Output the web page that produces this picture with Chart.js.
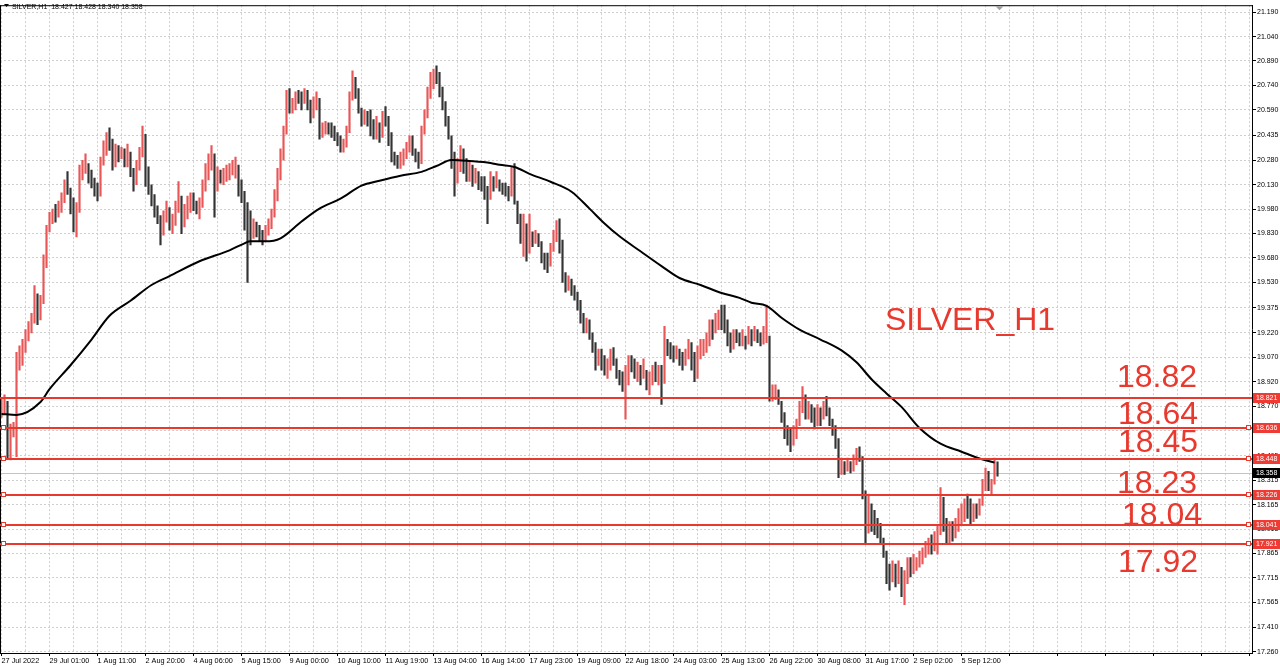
<!DOCTYPE html>
<html>
<head>
<meta charset="utf-8">
<script src="https://cdn.jsdelivr.net/npm/chart.js@4.4.1/dist/chart.umd.min.js"></script>
<style>
  html, body { margin: 0; padding: 0; background: #fff; }
</style>
</head>
<body>
<canvas id="silverChart" width="1280" height="667"></canvas>
<script>
// SILVER H1, 27 Jul - 6 Sep 2022, one bar every ~2 hours

const highs = [
  18.82,18.84,18.80,18.66,18.67,19.10,19.14,19.18,19.24,19.29,19.34,19.51,19.46,19.45,19.70,19.88,
  19.96,19.98,20.01,20.03,20.08,20.16,20.21,20.11,20.05,20.02,20.25,20.28,20.32,20.26,20.22,20.17,
  20.14,20.30,20.40,20.45,20.48,20.41,20.38,20.37,20.36,20.35,20.38,20.33,20.23,20.28,20.36,20.49,
  20.44,20.24,20.13,20.07,20.00,19.94,19.97,20.03,19.99,19.95,20.03,20.15,20.06,20.01,20.06,20.08,
  20.08,20.03,20.05,20.16,20.26,20.32,20.37,20.32,20.24,20.22,20.23,20.25,20.26,20.28,20.30,20.25,
  20.16,20.09,20.02,19.97,19.92,19.90,19.88,19.85,19.88,19.92,19.98,20.10,20.23,20.35,20.49,20.71,
  20.72,20.66,20.70,20.71,20.70,20.72,20.71,20.65,20.67,20.70,20.66,20.51,20.52,20.51,20.51,20.49,
  20.45,20.43,20.41,20.49,20.70,20.83,20.79,20.72,20.60,20.59,20.58,20.59,20.53,20.55,20.51,20.58,
  20.61,20.55,20.45,20.33,20.31,20.33,20.35,20.39,20.43,20.43,20.35,20.33,20.49,20.59,20.73,20.82,
  20.84,20.86,20.82,20.73,20.64,20.55,20.43,20.33,20.29,20.37,20.35,20.29,20.27,20.25,20.23,20.21,
  20.18,20.18,20.12,20.21,20.18,20.21,20.16,20.14,20.14,20.12,20.24,20.26,20.03,19.95,19.95,19.89,
  19.95,19.84,19.85,19.83,19.78,19.71,19.71,19.77,19.85,19.91,19.92,19.79,19.59,19.57,19.55,19.51,
  19.47,19.42,19.34,19.31,19.30,19.22,19.16,19.12,19.12,19.08,19.06,19.12,19.13,19.06,18.99,18.98,
  19.02,19.08,19.08,19.06,19.04,19.02,19.06,18.99,18.98,19.02,19.04,19.02,19.02,19.26,19.18,19.16,
  19.14,19.14,19.12,19.10,19.12,19.18,19.16,19.10,19.14,19.18,19.18,19.22,19.30,19.30,19.34,19.36,
  19.39,19.39,19.30,19.22,19.24,19.24,19.22,19.24,19.20,19.26,19.24,19.26,19.24,19.22,19.26,19.39,
  19.20,18.90,18.90,18.87,18.80,18.73,18.65,18.63,18.65,18.69,18.80,18.89,18.84,18.80,18.78,18.76,
  18.78,18.76,18.80,18.83,18.76,18.69,18.65,18.57,18.45,18.43,18.45,18.43,18.47,18.51,18.52,18.46,
  18.25,18.23,18.17,18.13,18.08,18.05,17.96,17.88,17.80,17.82,17.80,17.82,17.78,17.76,17.84,17.84,
  17.86,17.84,17.88,17.90,17.94,17.96,17.98,18.00,18.04,18.27,18.21,18.08,18.06,18.06,18.08,18.14,
  18.17,18.20,18.23,18.20,18.17,18.17,18.20,18.32,18.39,18.37,18.32,18.45,18.428
];

const lows = [
  18.70,18.72,18.45,18.44,18.58,18.46,18.99,19.02,19.10,19.17,19.22,19.28,19.27,19.30,19.40,19.62,
  19.84,19.89,19.90,19.93,19.96,20.02,20.07,19.95,19.84,19.81,19.96,20.16,20.20,20.14,20.11,20.06,
  20.03,20.06,20.25,20.31,20.34,20.22,20.24,20.27,20.29,20.24,20.24,20.18,20.09,20.13,20.22,20.30,
  20.12,20.07,20.00,19.93,19.89,19.76,19.82,19.90,19.85,19.83,19.88,19.96,19.83,19.87,19.92,19.96,
  19.97,19.95,19.92,19.99,20.09,20.16,20.22,19.93,20.09,20.14,20.13,20.15,20.16,20.19,20.17,20.06,
  20.02,19.85,19.53,19.76,19.80,19.81,19.78,19.76,19.78,19.82,19.86,19.93,20.03,20.16,20.28,20.44,
  20.57,20.57,20.59,20.63,20.59,20.63,20.59,20.51,20.54,20.59,20.41,20.42,20.44,20.44,20.42,20.40,
  20.37,20.33,20.33,20.36,20.45,20.65,20.66,20.57,20.49,20.50,20.49,20.43,20.41,20.41,20.39,20.42,
  20.49,20.37,20.27,20.25,20.23,20.23,20.25,20.29,20.33,20.31,20.27,20.23,20.26,20.44,20.54,20.66,
  20.72,20.75,20.67,20.59,20.49,20.41,20.23,20.06,20.14,20.21,20.20,20.15,20.15,20.12,20.14,20.10,
  20.09,20.04,19.89,20.04,20.09,20.11,20.09,20.07,20.06,20.03,20.06,20.01,19.89,19.77,19.69,19.66,
  19.71,19.75,19.77,19.75,19.65,19.61,19.59,19.63,19.72,19.78,19.71,19.53,19.47,19.48,19.45,19.42,
  19.36,19.28,19.22,19.22,19.18,19.10,18.99,19.02,18.99,18.96,18.94,18.99,19.02,18.94,18.90,18.86,
  18.69,18.90,18.98,18.94,18.92,18.90,18.94,18.87,18.84,18.90,18.92,18.90,18.78,18.91,19.08,19.06,
  19.04,19.06,19.02,18.99,19.02,19.06,18.99,18.92,18.94,19.06,19.08,19.10,19.14,19.18,19.22,19.24,
  19.24,19.22,19.14,19.10,19.12,19.16,19.14,19.14,19.12,19.15,19.14,19.17,19.16,19.14,19.15,19.16,
  18.80,18.80,18.81,18.78,18.67,18.57,18.53,18.49,18.53,18.57,18.65,18.73,18.69,18.69,18.67,18.63,
  18.65,18.65,18.69,18.71,18.65,18.59,18.51,18.33,18.35,18.35,18.37,18.36,18.37,18.41,18.43,18.20,
  17.92,17.99,18.00,17.98,17.96,17.92,17.84,17.68,17.64,17.69,17.66,17.68,17.60,17.55,17.68,17.72,
  17.74,17.76,17.78,17.80,17.84,17.86,17.86,17.88,17.86,17.98,18.00,17.92,17.92,17.94,17.96,18.00,
  18.04,18.06,18.08,18.04,18.06,18.08,18.10,18.16,18.25,18.25,18.23,18.29,18.340
];

const closes = [
  18.76,18.80,18.58,18.62,18.63,19.05,19.08,19.12,19.20,19.25,19.30,19.44,19.32,19.42,19.66,19.84,
  19.92,19.95,19.94,20.00,20.05,20.12,20.10,19.99,19.90,19.98,20.20,20.22,20.25,20.18,20.15,20.10,
  20.08,20.27,20.36,20.40,20.38,20.27,20.34,20.31,20.33,20.28,20.36,20.21,20.14,20.25,20.33,20.42,
  20.16,20.11,20.03,19.98,19.93,19.82,19.93,19.96,19.89,19.91,20.00,20.06,19.88,19.97,20.02,20.04,
  20.00,19.99,20.01,20.13,20.22,20.28,20.30,20.15,20.19,20.17,20.20,20.21,20.24,20.26,20.27,20.10,
  20.05,19.90,19.88,19.85,19.88,19.84,19.82,19.80,19.86,19.89,19.95,20.06,20.19,20.31,20.45,20.66,
  20.62,20.63,20.68,20.66,20.64,20.69,20.61,20.55,20.63,20.66,20.46,20.48,20.50,20.47,20.45,20.43,
  20.40,20.36,20.38,20.47,20.66,20.76,20.70,20.60,20.53,20.56,20.52,20.47,20.45,20.51,20.43,20.55,
  20.53,20.41,20.30,20.28,20.26,20.30,20.33,20.37,20.40,20.34,20.30,20.27,20.45,20.56,20.69,20.77,
  20.80,20.78,20.70,20.62,20.52,20.44,20.27,20.18,20.25,20.30,20.24,20.20,20.22,20.16,20.19,20.13,
  20.12,20.08,20.05,20.17,20.12,20.16,20.12,20.11,20.09,20.07,20.20,20.04,19.93,19.82,19.88,19.72,
  19.90,19.79,19.82,19.78,19.68,19.65,19.63,19.74,19.82,19.87,19.76,19.57,19.52,19.55,19.49,19.45,
  19.39,19.31,19.26,19.28,19.21,19.13,19.05,19.09,19.03,19.00,19.04,19.09,19.06,18.97,18.94,18.92,
  18.95,19.03,19.01,18.98,19.00,18.95,19.02,18.91,18.95,18.99,18.96,18.98,18.92,19.20,19.12,19.10,
  19.09,19.11,19.05,19.03,19.10,19.14,19.02,18.97,19.08,19.12,19.15,19.19,19.26,19.24,19.30,19.33,
  19.30,19.27,19.18,19.14,19.20,19.19,19.17,19.21,19.15,19.22,19.18,19.23,19.19,19.17,19.22,19.35,
  18.84,18.86,18.88,18.80,18.70,18.60,18.57,18.55,18.62,18.66,18.77,18.82,18.73,18.76,18.71,18.68,
  18.72,18.70,18.77,18.74,18.68,18.62,18.54,18.38,18.40,18.38,18.42,18.39,18.45,18.48,18.46,18.24,
  18.02,18.15,18.07,18.03,18.00,17.96,17.88,17.72,17.70,17.78,17.71,17.79,17.66,17.70,17.80,17.77,
  17.80,17.82,17.85,17.87,17.90,17.93,17.91,17.97,18.01,18.20,18.05,17.97,18.00,17.98,18.04,18.10,
  18.12,18.16,18.12,18.09,18.14,18.12,18.17,18.29,18.35,18.28,18.30,18.42,18.358
];

// moving average (black line), sampled at these bar numbers
const maIndex = [0,5,13,16,23,30,36,43,50,56,66,76,81,83,88,93,100,106,113,120,
  126,133,140,145,150,156,163,166,171,176,183,190,196,201,206,213,220,226,233,240,
  246,250,255,260,266,273,280,285,290,295,300,306,313,320,326,331];
const maValues = [18.722,18.716,18.795,18.874,19.021,19.179,19.325,19.417,19.514,19.569,
  19.660,19.727,19.770,19.782,19.782,19.801,19.904,19.983,20.044,20.124,
  20.154,20.185,20.209,20.245,20.282,20.276,20.264,20.252,20.239,20.197,
  20.148,20.087,19.983,19.892,19.813,19.721,19.630,19.557,19.514,19.465,
  19.435,19.405,19.386,19.313,19.240,19.179,19.112,19.039,18.935,18.848,
  18.765,18.636,18.539,18.490,18.448,18.423];

const xLabels = ["27 Jul 2022","29 Jul 01:00","1 Aug 11:00","2 Aug 20:00","4 Aug 06:00",
  "5 Aug 15:00","9 Aug 00:00","10 Aug 10:00","11 Aug 19:00","13 Aug 04:00","16 Aug 14:00",
  "17 Aug 23:00","19 Aug 09:00","22 Aug 18:00","24 Aug 03:00","25 Aug 13:00","26 Aug 22:00",
  "30 Aug 08:00","31 Aug 17:00","2 Sep 02:00","5 Sep 12:00"];

const yTicks = [21.190,21.040,20.890,20.740,20.590,20.435,20.280,20.130,19.980,19.830,
  19.680,19.530,19.375,19.220,19.070,18.920,18.770,18.620,18.465,18.315,18.165,18.015,
  17.865,17.715,17.565,17.410,17.260];

const levels = [18.821, 18.636, 18.448, 18.226, 18.041, 17.921];
const levelTexts = ["18.82", "18.64", "18.45", "18.23", "18.04", "17.92"];
const lastPrice = 18.358;
const headerText = "SILVER,H1  18.427 18.428 18.340 18.358";
const chartTitle = "SILVER_H1";

const RED = "#e8392e";
const UP = "#e85656";
const DOWN = "#333333";
const FONT = "'Liberation Sans', Arial, sans-serif";

const barPoints = highs.map((h, i) => ({ x: i, y: [lows[i], h] }));
const barColors = closes.map((c, i) => (c >= (i ? closes[i - 1] : c) ? UP : DOWN));
const maPoints = maIndex.map((ix, k) => ({ x: ix, y: maValues[k] }));

const overlay = {
  id: "overlay",
  beforeDatasetsDraw(chart) {
    const { ctx, chartArea: a, scales: { y } } = chart;
    const py = Math.round(y.getPixelForValue(lastPrice)) + 0.5;
    ctx.save();
    ctx.strokeStyle = "#c4c4c4";
    ctx.lineWidth = 1;
    ctx.beginPath();
    ctx.moveTo(a.left, py);
    ctx.lineTo(a.right, py);
    ctx.stroke();
    ctx.restore();
  },
  afterDatasetsDraw(chart) {
    const { ctx, chartArea: a, scales: { x, y } } = chart;
    ctx.save();

    // left and top frame
    ctx.fillStyle = "#000";
    ctx.fillRect(a.left, a.top, 1, a.bottom - a.top);
    ctx.fillRect(a.left, a.top, a.right - a.left, 1);

    // horizontal levels
    ctx.font = "7px " + FONT;
    ctx.textBaseline = "middle";
    levels.forEach((v, k) => {
      const py = Math.round(y.getPixelForValue(v));
      ctx.fillStyle = RED;
      ctx.fillRect(a.left, py - 1, a.right - a.left, 2);
      if (k > 0) {
        ctx.strokeStyle = RED;
        ctx.lineWidth = 1;
        ctx.fillStyle = "#fff";
        ctx.fillRect(a.left + 1.5, py - 2.5, 4, 4);
        ctx.strokeRect(a.left + 1.5, py - 2.5, 4, 4);
        ctx.fillRect(a.right - 5.5, py - 2.5, 4, 4);
        ctx.strokeRect(a.right - 5.5, py - 2.5, 4, 4);
      }
      ctx.fillStyle = "#ee3b33";
      ctx.fillRect(a.right + 1, py - 5, 27, 10);
      ctx.fillStyle = "#fff";
      ctx.fillText(v.toFixed(3), a.right + 4, py + 0.5);
    });

    // last price tag
    const lp = Math.round(y.getPixelForValue(lastPrice));
    ctx.fillStyle = "#000";
    ctx.fillRect(a.right + 1, lp - 5, 27, 10);
    ctx.fillStyle = "#fff";
    ctx.fillText(lastPrice.toFixed(3), a.right + 4, lp + 0.5);

    // chart shift marker
    const sx = x.getPixelForValue(highs.length - 1) + 2;
    ctx.fillStyle = "#a0a0a0";
    ctx.beginPath();
    ctx.moveTo(sx - 4, a.top + 1);
    ctx.lineTo(sx + 4, a.top + 1);
    ctx.lineTo(sx, a.top + 5);
    ctx.closePath();
    ctx.fill();

    // header
    ctx.fillStyle = "#000";
    ctx.beginPath();
    ctx.moveTo(4, 4);
    ctx.lineTo(9, 4);
    ctx.lineTo(6.5, 7);
    ctx.closePath();
    ctx.fill();
    ctx.font = "7px " + FONT;
    ctx.textBaseline = "alphabetic";
    ctx.fillStyle = "#000";
    ctx.fillText(headerText, 12, 9);

    // big red annotations
    ctx.fillStyle = RED;
    ctx.font = "32px " + FONT;
    ctx.fillText(chartTitle, 885, 330);
    const spots = [[1117, 387], [1118, 424], [1118, 452], [1117, 493], [1122, 525], [1118, 572]];
    levelTexts.forEach((t, k) => ctx.fillText(t, spots[k][0], spots[k][1]));

    ctx.restore();
  }
};

new Chart(document.getElementById("silverChart"), {
  type: "bar",
  data: {
    datasets: [
      {
        type: "line",
        data: maPoints,
        borderColor: "#000",
        borderWidth: 2,
        pointRadius: 0,
        cubicInterpolationMode: "monotone",
        order: 0
      },
      {
        type: "bar",
        data: barPoints,
        backgroundColor: barColors,
        barThickness: 1.5,
        borderWidth: 0,
        order: 1
      }
    ]
  },
  options: {
    responsive: false,
    animation: false,
    layout: { padding: 0 },
    plugins: {
      legend: { display: false },
      tooltip: { enabled: false }
    },
    scales: {
      x: {
        type: "linear",
        min: -0.5,
        max: 416.83,
        offset: false,
        afterBuildTicks: (s) => {
          s.ticks = [];
          for (let v = 0; v <= 416; v += 8) s.ticks.push({ value: v });
        },
        afterFit: (s) => { s.height = 14; },
        grid: {
          offset: false,
          color: "#cfcfcf",
          tickLength: 3,
          tickBorderDash: [],
          tickColor: (c) => (c.tick && c.tick.value % 16 === 0 ? "#000" : "rgba(0,0,0,0)")
        },
        border: { display: true, color: "#000", width: 1, dash: [2, 2] },
        ticks: {
          autoSkip: false,
          maxRotation: 0,
          align: "start",
          padding: 1,
          color: "#000",
          font: { family: FONT, size: 7.3 },
          callback: (v) => (v % 16 === 0 && xLabels[v / 16]) ? xLabels[v / 16] : ""
        }
      },
      y: {
        position: "right",
        min: 17.2534,
        max: 21.2327,
        afterBuildTicks: (s) => { s.ticks = yTicks.map((v) => ({ value: v })); },
        afterFit: (s) => { s.width = 28; },
        grid: {
          color: "#cfcfcf",
          tickLength: 4,
          tickBorderDash: [],
          tickColor: "#000"
        },
        border: { display: true, color: "#000", width: 1, dash: [2, 2] },
        ticks: {
          padding: 1,
          color: "#000",
          font: { family: FONT, size: 7 },
          callback: (v) => Number(v).toFixed(3)
        }
      }
    }
  },
  plugins: [overlay]
});
</script>
</body>
</html>
